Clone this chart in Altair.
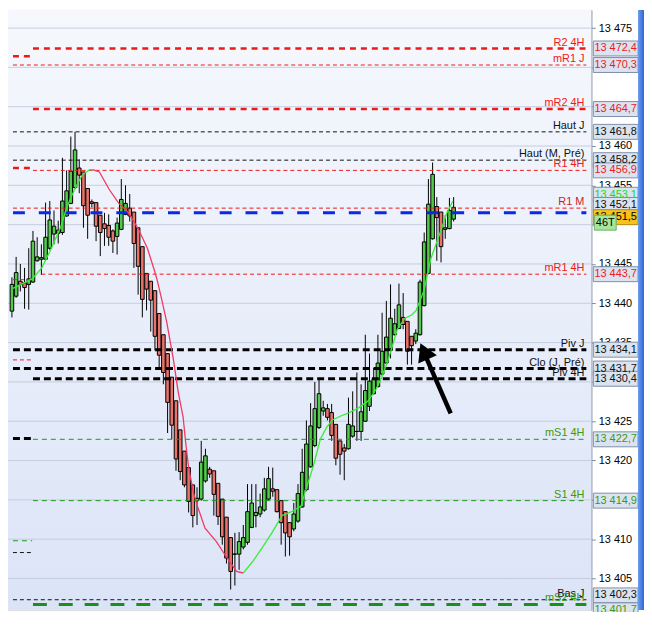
import altair as alt
import pandas as pd

# ---------------- data ----------------
candle_idx = list(range(-1, 105))
opens = [13439.0, 13440.9, 13442.8, 13442.6, 13442.4, 13442.7, 13445.4, 13445.6, 13445.6, 13447.0,
         13448.8, 13449.3, 13449.0, 13451.1, 13452.7, 13454.7, 13457.2, 13456.7, 13454.6, 13452.9,
         13452.8, 13451.2, 13450.1, 13449.9, 13449.2, 13448.5, 13449.4, 13451.3, 13452.1, 13451.6,
         13449.6, 13447.2, 13443.8, 13442.8, 13441.6, 13438.7, 13436.0, 13433.6, 13430.6, 13427.6,
         13423.9, 13421.2, 13419.1, 13416.9, 13414.9, 13415.1, 13417.4, 13418.9, 13418.7, 13417.1,
         13415.1, 13412.8, 13410.2, 13408.1, 13408.1, 13409.0, 13409.6, 13411.5, 13413.0, 13413.2,
         13413.7, 13415.1, 13416.4, 13416.3, 13414.9, 13413.5, 13412.1, 13411.3, 13412.3, 13414.1,
         13416.3, 13419.2, 13421.9, 13424.2, 13426.3, 13426.6, 13426.1, 13424.6, 13422.5, 13421.6,
         13421.5, 13423.1, 13423.7, 13423.7, 13425.0, 13426.9, 13428.5, 13429.4, 13431.0, 13432.4,
         13434.0, 13436.0, 13436.8, 13438.2, 13437.7, 13435.8, 13435.2, 13436.0, 13439.7, 13443.8,
         13448.2, 13452.3, 13451.6, 13449.4, 13449.5, 13450.7]
closes = [13442.4, 13443.9, 13442.4, 13442.0, 13443.1, 13447.9, 13445.9, 13445.8, 13448.4, 13450.6,
          13449.8, 13448.9, 13453.0, 13454.3, 13456.8, 13459.5, 13456.3, 13452.4, 13451.2, 13452.7,
          13449.8, 13449.0, 13449.5, 13448.4, 13447.9, 13450.2, 13453.2, 13452.7, 13451.1, 13447.6,
          13444.7, 13440.5, 13441.8, 13440.4, 13435.8, 13433.4, 13431.2, 13427.4, 13424.5, 13420.2,
          13418.6, 13416.9, 13414.8, 13413.0, 13415.2, 13419.8, 13420.6, 13418.3, 13415.7, 13412.9,
          13410.3, 13407.6, 13405.9, 13408.1, 13409.7, 13410.2, 13413.5, 13414.6, 13413.4, 13414.1,
          13416.4, 13417.7, 13416.1, 13413.5, 13412.1, 13410.8, 13410.3, 13413.2, 13415.8, 13418.5,
          13422.1, 13424.4, 13426.6, 13428.5, 13426.7, 13425.5, 13423.2, 13420.3, 13420.8, 13421.2,
          13424.6, 13424.4, 13423.7, 13426.2, 13428.9, 13430.1, 13430.3, 13432.4, 13433.9, 13435.7,
          13438.1, 13437.4, 13439.8, 13437.3, 13433.9, 13434.6, 13436.2, 13442.7, 13447.8, 13452.6,
          13456.4, 13450.9, 13447.2, 13449.6, 13451.8, 13452.2]
highs = [13443.3, 13445.9, 13445.0, 13444.5, 13447.0, 13449.2, 13448.4, 13447.5, 13452.8, 13453.0,
         13451.8, 13450.5, 13458.5, 13456.9, 13461.2, 13461.8, 13458.3, 13456.7, 13454.6, 13453.2,
         13452.8, 13451.2, 13451.5, 13451.3, 13449.4, 13450.9, 13455.8, 13455.0, 13453.9, 13451.6,
         13449.6, 13447.2, 13443.8, 13442.8, 13441.6, 13438.7, 13436.0, 13433.6, 13430.6, 13427.6,
         13423.9, 13421.2, 13419.1, 13416.9, 13416.6, 13422.5, 13421.5, 13419.2, 13418.7, 13417.1,
         13415.1, 13412.8, 13410.2, 13410.8, 13410.9, 13411.8, 13417.0, 13417.0, 13417.0, 13415.8,
         13417.8, 13419.2, 13419.1, 13416.3, 13414.9, 13413.5, 13412.1, 13414.6, 13417.0, 13421.5,
         13425.1, 13427.3, 13430.0, 13430.5, 13427.6, 13427.2, 13427.2, 13424.6, 13422.5, 13422.1,
         13428.0, 13428.8, 13431.2, 13429.7, 13436.0, 13433.6, 13431.8, 13436.0, 13438.8, 13440.3,
         13442.4, 13439.3, 13442.5, 13441.3, 13437.7, 13435.8, 13436.7, 13443.0, 13449.0, 13455.8,
         13457.9, 13453.5, 13451.6, 13451.2, 13453.4, 13453.5]
lows = [13438.2, 13440.7, 13441.5, 13439.3, 13439.2, 13442.6, 13445.3, 13443.6, 13445.5, 13446.8,
        13447.5, 13447.6, 13448.7, 13451.0, 13452.6, 13454.6, 13454.0, 13449.6, 13448.2, 13452.2,
        13447.9, 13446.0, 13447.3, 13447.3, 13446.4, 13446.2, 13449.3, 13451.2, 13450.4, 13444.5,
        13441.1, 13438.2, 13439.1, 13436.4, 13434.0, 13431.8, 13429.7, 13423.5, 13422.7, 13418.7,
        13417.5, 13416.6, 13413.4, 13411.5, 13411.8, 13414.9, 13417.2, 13417.8, 13413.0, 13411.8,
        13409.3, 13406.9, 13403.6, 13404.1, 13406.1, 13408.7, 13409.3, 13411.4, 13411.5, 13412.8,
        13413.5, 13414.9, 13415.4, 13413.4, 13409.3, 13407.8, 13407.9, 13411.0, 13412.1, 13414.0,
        13416.1, 13419.1, 13421.7, 13424.0, 13425.7, 13425.1, 13422.5, 13419.4, 13418.2, 13417.5,
        13421.4, 13422.9, 13422.5, 13422.5, 13424.9, 13426.3, 13428.4, 13429.3, 13430.8, 13432.3,
        13433.0, 13435.9, 13436.7, 13436.7, 13432.2, 13432.2, 13434.8, 13435.9, 13439.6, 13443.7,
        13448.1, 13445.4, 13445.2, 13448.2, 13449.4, 13450.4]

# moving average (x in candle units)
ma_rise1_x = [-0.75, 1.53, 3.81, 6.10, 8.38, 10.66, 11.8, 12.95, 14.5, 15.7, 17.5, 18.2]
ma_rise1_v = [13441.9, 13442.5, 13443.1, 13444.5, 13447.0, 13449.8, 13451.8, 13453.4, 13455.1,
              13456.3, 13457.0, 13457.0]
ma_fall_x = [18.2, 19.8, 22.1, 24.4, 26.6, 28.9, 31.2, 32.8, 33.5, 34.6, 35.8, 37.4, 38.5, 39.7,
             40.3, 41.0, 42.2, 43.1, 44.9, 47.6, 49.9, 52.4, 54.0]
ma_fall_v = [13457.0, 13456.7, 13454.5, 13452.7, 13451.6, 13449.6, 13447.0, 13444.3, 13443.0,
             13440.5, 13437.6, 13432.8, 13428.8, 13425.5, 13422.3, 13419.1, 13415.8, 13414.2,
             13411.4, 13409.7, 13407.8, 13405.9, 13405.7]
ma_rise2_x = [54.0, 56.3, 58.6, 60.9, 63.2, 65.5, 67.7, 69.3, 70.7, 72.3, 73.9, 75.3, 77.3, 79.2,
              81.4, 83.7, 85.5, 86.9, 88.3, 89.4, 90.6, 92.4, 94.0, 95.1, 97.0, 98.6, 100.8,
              102.4, 103.8]
ma_rise2_v = [13405.7, 13407.2, 13409.0, 13410.9, 13413.0, 13413.5, 13414.2, 13417.0, 13419.4,
              13422.7, 13424.3, 13425.2, 13425.7, 13426.1, 13426.7, 13427.6, 13429.0, 13430.6,
              13432.6, 13434.5, 13436.7, 13438.1, 13438.5, 13439.1, 13441.7, 13445.7, 13449.0,
              13451.5, 13453.0]

# horizontal levels
level_names = ["R2 4H", "mR1 J", "mR2 4H", "Haut J", "Haut (M, Pré)", "R1 4H", "R1 M", "mR1 4H",
               "Piv J", "Clo (J, Pré)", "Piv 4H", "mS1 4H", "S1 4H", "Bas J", "mS2 4H"]
level_values = [13472.4, 13470.3, 13464.7, 13461.8, 13458.2, 13456.9, 13452.1, 13443.7,
                13434.1, 13431.7, 13430.4, 13422.7, 13414.9, 13402.3, 13401.7]
level_kinds = ["red_thick", "red_thin", "red_thick", "black_thin", "black_thin", "red_thin",
               "red_thin", "red_thin", "black_thick", "black_thick", "black_thick", "green_thin",
               "green_thin", "black_thin", "green_thick"]
level_label_colors = ["red", "red", "red", "black", "black", "red", "darkred", "red",
                      "black", "black", "black", "green", "green", "black", "green"]
level_starts = [4.0, -0.753, 4.0, -0.753, -0.753, 4.0, -0.753, 6.0,
                -0.753, -0.753, 4.0, 4.0, 4.0, -0.753, 4.0]
box_text_colors = ["red", "red", "red", "black", "black", "red", "black", "red",
                   "black", "black", "black", "green", "green", "black", "green"]

last_price = 13451.5
ma_last = 13453.1
tick_label = "46T"

# previous-period level stubs at the left edge
stub_values = [13471.4, 13457.2, 13443.0, 13432.8, 13422.8, 13409.8, 13408.3]
stub_kinds = ["red_thick", "red_thick", "red_thin", "red_thin", "black_thick", "green_thin", "black_thin"]

# arrow (tail -> head), in candle units / price
arrow_x = [103.3, 97.3]
arrow_v = [13426.0, 13433.3]
arrow_head_x = [96.95]
arrow_head_v = [13433.9]

ticks = [13405, 13410, 13415, 13420, 13425, 13430, 13435, 13440, 13445, 13450,
         13455, 13460, 13465, 13470, 13475]
# tick labels that the value boxes hide in the reference
hidden_tick_labels = [13415, 13430, 13450, 13465, 13470]

# ---------------- layout / style ----------------
W, H, RIGHT = 587, 604, 53
X_MIN, X_MAX = -0.753, 135.55
Y_MIN, Y_MAX = 13400.98, 13477.31
STUB_END = 3.8
LABEL_X = 135.1
BOX_HALF = 0.95
FONT = "Liberation Sans"
# boxes that are pushed off their line so that they stack (line value -> box centre)
BOX_SHIFT = {13452.1: 13452.5, 13402.3: 13402.85, 13401.7: 13400.95}

COL = {"red": "#f01818", "darkred": "#d01c1c", "black": "#111111", "green": "#3a9a10",
       "ma": "#1ed81e"}
STY = {
    "red_thin": ("#f01818", 1, [4, 3]),
    "red_thick": ("#f01818", 2.5, [6, 5]),
    "black_thin": ("#111111", 1, [4, 3]),
    "black_thick": ("#000000", 3, [7, 4]),
    "green_thin": ("#1a9a1a", 1, [5, 4]),
    "green_thick": ("#1a8f1a", 3, [14, 12]),
    "blue": ("#0a28e6", 3, [12, 14]),
}
GREEN, RED = "#50cc4a", "#e8736b"

hidden_expr = " || ".join(f"datum.value == {v}" for v in hidden_tick_labels)
xscale = alt.Scale(domain=[X_MIN, X_MAX], nice=False, zero=False)
yscale = alt.Scale(domain=[Y_MIN, Y_MAX], nice=False, zero=False)
yaxis = alt.Axis(orient="right", values=ticks, title=None, grid=False,
                 labelExpr=f"({hidden_expr}) ? '' : replace(format(datum.value, ',d'), ',', ' ')",
                 labelFont=FONT, labelFontSize=11, labelColor="#000000", labelPadding=3,
                 tickColor="#7d8da6", tickSize=4, domainColor="#7d8da6", domainWidth=1)


def X(f):
    return alt.X(f, type="quantitative", scale=xscale, axis=None)


def Y(f):
    return alt.Y(f, type="quantitative", scale=yscale, axis=yaxis)


def fmt(v):
    return f"{v:,.1f}".replace(",", " ").replace(".", ",")


one = pd.DataFrame({"a": [0]})

# background gradient of the plot area
bg = alt.Chart(one).mark_rect(
    color=alt.Gradient(gradient="linear", x1=0, x2=0, y1=0, y2=1,
                       stops=[alt.GradientStop(color="#f6f8fd", offset=0),
                              alt.GradientStop(color="#dbe4f7", offset=1)])
).encode(x=alt.value(0), x2=alt.value(W), y=alt.value(0), y2=alt.value(H))

grid = alt.Chart(pd.DataFrame({"t": ticks})).mark_rule(color="#c6cedd", strokeWidth=1).encode(
    y=Y("t"))

cdf = pd.DataFrame({"i": candle_idx, "open": opens, "close": closes, "high": highs, "low": lows})
cdf["dir"] = ["up" if c >= o else "down" for o, c in zip(opens, closes)]

wicks = alt.Chart(cdf).mark_rule(color="#000000", strokeWidth=1, clip=True).encode(
    x=X("i"), y=Y("low"), y2="high")
bodies = alt.Chart(cdf).mark_bar(size=3.6, stroke="#000000", strokeWidth=1, clip=True).encode(
    x=X("i"), y=Y("open"), y2="close",
    color=alt.Color("dir:N", scale=alt.Scale(domain=["up", "down"], range=[GREEN, RED]), legend=None))

# level lines
lv = pd.DataFrame({"name": level_names, "value": level_values, "kind": level_kinds,
                   "xs": level_starts, "lc": [COL[c] for c in level_label_colors]})
lv["xe"] = X_MAX
lv["lx"] = LABEL_X
sv = pd.DataFrame({"value": stub_values, "kind": stub_kinds})
sv["xs"] = X_MIN
sv["xe"] = STUB_END
cur = pd.DataFrame({"value": [last_price], "kind": ["blue"], "xs": [X_MIN], "xe": [X_MAX]})
all_lines = pd.concat([lv[["value", "kind", "xs", "xe"]], sv, cur], ignore_index=True)

line_layers = []
for kind, (colr, wdt, dash) in STY.items():
    sub = all_lines[all_lines["kind"] == kind]
    if len(sub) == 0:
        continue
    line_layers.append(
        alt.Chart(sub).mark_rule(color=colr, strokeWidth=wdt, strokeDash=dash, clip=True).encode(
            x=X("xs"), x2="xe", y=Y("value")))

# moving average
ma = pd.concat([
    pd.DataFrame({"x": ma_rise1_x, "v": ma_rise1_v, "seg": "a", "c": "#35ee35"}),
    pd.DataFrame({"x": ma_fall_x, "v": ma_fall_v, "seg": "b", "c": "#f23a64"}),
    pd.DataFrame({"x": ma_rise2_x, "v": ma_rise2_v, "seg": "c", "c": "#35ee35"}),
], ignore_index=True)
ma["o"] = range(len(ma))
ma_line = alt.Chart(ma).mark_line(strokeWidth=1.3, clip=True).encode(
    x=X("x"), y=Y("v"), detail="seg:N", order="o:Q", color=alt.Color("c:N", scale=None))

# level names
names = alt.Chart(lv).mark_text(align="right", baseline="bottom", dy=-1, font=FONT, fontSize=11).encode(
    x=X("lx"), y=Y("value"), text="name:N", color=alt.Color("lc:N", scale=None))

# arrow
arr = alt.Chart(pd.DataFrame({"x": [arrow_x[0]], "x2": [arrow_x[1]], "v": [arrow_v[0]], "v2": [arrow_v[1]]})
                ).mark_rule(color="#000000", strokeWidth=4.5).encode(x=X("x"), x2="x2", y=Y("v"), y2="v2")
head = alt.Chart(pd.DataFrame({"x": arrow_head_x, "v": arrow_head_v})).mark_point(
    shape="triangle-up", size=420, filled=True, color="#000000", opacity=1, angle=336).encode(
    x=X("x"), y=Y("v"))

# right-hand value boxes
bx = pd.DataFrame({"value": level_values, "c": [COL[c] for c in box_text_colors]})
bx["center"] = [BOX_SHIFT.get(v, v) for v in bx["value"]]
extra = pd.DataFrame({"value": [ma_last], "c": [COL["ma"]], "center": [13453.8]})
bx = pd.concat([bx[bx["value"] != 13452.1], extra, bx[bx["value"] == 13452.1]], ignore_index=True)
bx["top"] = bx["center"] + BOX_HALF
bx["bot"] = bx["center"] - BOX_HALF
bx["txt"] = [fmt(v) for v in bx["value"]]
bx["o"] = range(len(bx))

box_rect = alt.Chart(bx).mark_rect(fill="#dbe3f0", stroke="#7f8fa8", strokeWidth=1).encode(
    x=alt.value(W + 2), x2=alt.value(W + 47), y=Y("top"), y2="bot", order="o:Q")
box_text = alt.Chart(bx).mark_text(align="center", baseline="middle", font=FONT, fontSize=11).encode(
    x=alt.value(W + 24.5), y=Y("center"), text="txt:N", color=alt.Color("c:N", scale=None))

cur_box = pd.DataFrame({"center": [13450.95], "txt": [fmt(last_price)]})
cur_box["top"] = cur_box["center"] + BOX_HALF
cur_box["bot"] = cur_box["center"] - BOX_HALF
cbox = alt.Chart(cur_box).mark_rect(fill="#f7c21c", stroke="#b48a10", strokeWidth=1).encode(
    x=alt.value(W + 2), x2=alt.value(W + 47), y=Y("top"), y2="bot")
ctext = alt.Chart(cur_box).mark_text(align="center", baseline="middle", font=FONT, fontSize=11,
                                     color="#000000").encode(
    x=alt.value(W + 24.5), y=Y("center"), text="txt:N")

tk = pd.DataFrame({"center": [13450.25], "txt": [tick_label]})
tk["top"] = tk["center"] + BOX_HALF
tk["bot"] = tk["center"] - BOX_HALF
tbox = alt.Chart(tk).mark_rect(fill="#a6e69c", stroke="#6fae66", strokeWidth=1).encode(
    x=alt.value(W + 3), x2=alt.value(W + 25), y=Y("top"), y2="bot")
ttext = alt.Chart(tk).mark_text(align="center", baseline="middle", font=FONT, fontSize=11,
                                color="#000000").encode(
    x=alt.value(W + 14), y=Y("center"), text="txt:N")

strip = alt.Chart(one).mark_rect(
    color=alt.Gradient(gradient="linear", x1=0, x2=1, y1=0, y2=0,
                       stops=[alt.GradientStop(color="#6a9cec", offset=0),
                              alt.GradientStop(color="#2f66d6", offset=1)])
).encode(x=alt.value(W + 47), x2=alt.value(W + RIGHT), y=alt.value(0), y2=alt.value(H))

chart = alt.layer(
    bg, grid, wicks, bodies, *line_layers, ma_line, names, arr, head,
    box_rect, box_text, cbox, ctext, tbox, ttext, strip
).properties(
    width=W, height=H,
    autosize=alt.AutoSizeParams(type="none"),
    padding={"left": 0, "top": 0, "right": RIGHT, "bottom": 0},
).configure_view(strokeWidth=0).configure(background="#ffffff")

chart.save("out.html", embed_options={"renderer": "svg", "actions": False})
